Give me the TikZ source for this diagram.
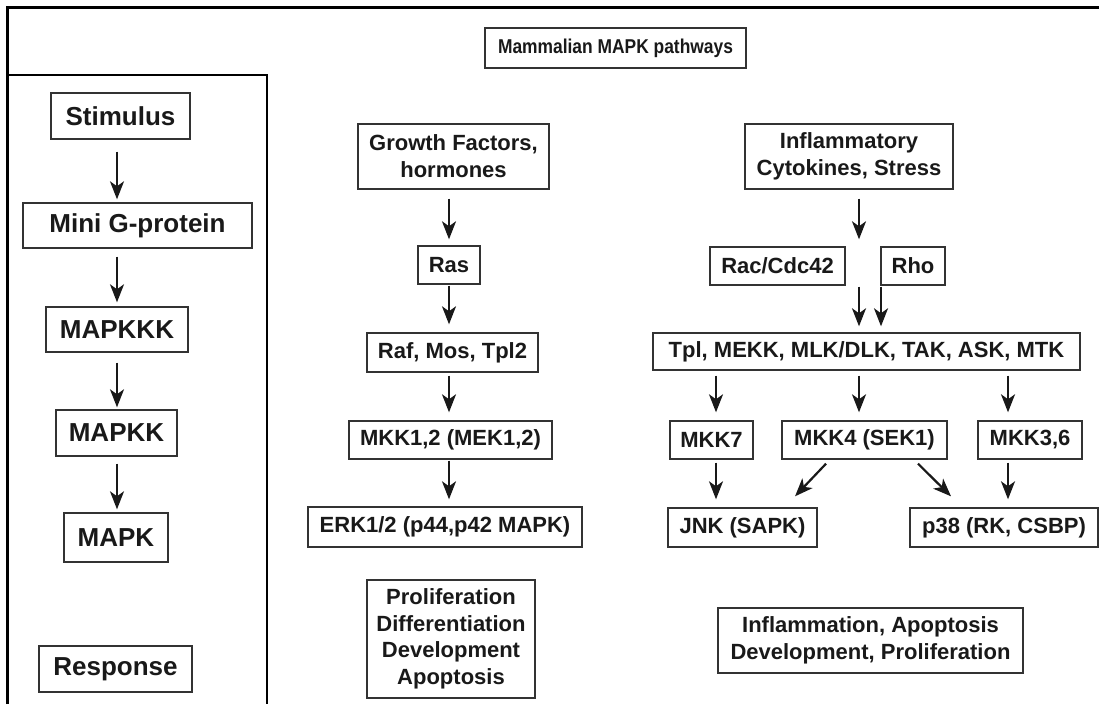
\documentclass[tikz,border=0pt]{standalone}
\usepackage{fontspec}
\setmainfont{Liberation Sans}
\newfontfamily\titlefont[FakeStretch=0.87]{Liberation Sans}
\usetikzlibrary{arrows.meta}
\begin{document}
\begin{tikzpicture}[x=1pt,y=-1pt,
  box/.style={draw=black!80, line width=1.4pt, inner sep=0pt, align=center,
    text=black!90, font=\fontsize{22}{27}\selectfont\bfseries},
  lbox/.style={box, font=\fontsize{26}{30}\selectfont\bfseries},
  tbox/.style={box, font=\titlefont\fontsize{20}{24}\selectfont\bfseries},
  arr/.style={-{Stealth[length=18pt,width=14pt,inset=5pt]}, line width=2.2pt, black!90}]
\useasboundingbox (0,0) rectangle (1099,704);
\fill[white] (0,0) rectangle (1099,704);
% frames
\draw[line width=3pt] (7,704) -- (7,7) -- (1099,7);
\draw[line width=2pt] (7,75) -- (267,75) -- (267,704);
% title
\node[tbox, minimum width=261pt, minimum height=40pt] (title) at (615.5,48) {Mammalian MAPK pathways};
% left panel
\node[lbox, minimum width=139pt, minimum height=46pt] (stim) at (120.5,116) {Stimulus};
\node[lbox, minimum width=229pt, minimum height=45pt] (mini) at (137.5,225.5) {Mini G-protein};
\node[lbox, minimum width=142pt, minimum height=45pt] (mkkk) at (117,329.5) {MAPKKK};
\node[lbox, minimum width=121pt, minimum height=46pt] (mkk) at (116.5,433) {MAPKK};
\node[lbox, minimum width=104pt, minimum height=49pt] (mapk) at (116,537.5) {MAPK};
\node[lbox, minimum width=153pt, minimum height=46pt] (resp) at (115.5,669) {Response};
\coordinate (ax) at (117,0);
\draw[arr, shorten <=12pt, shorten >=3pt] (stim.south -| ax) -- (mini.north -| ax);
\draw[arr, shorten <=8pt, shorten >=4pt] (mini.south -| ax) -- (mkkk.north -| ax);
\draw[arr, shorten <=10pt, shorten >=2pt] (mkkk.south -| ax) -- (mkk.north -| ax);
\draw[arr, shorten <=7pt, shorten >=3pt] (mkk.south -| ax) -- (mapk.north -| ax);
% middle column
\node[box, minimum width=191pt, minimum height=65pt] (gf) at (453.5,156.5) {Growth Factors,\\hormones};
\node[box, minimum width=62pt, minimum height=38pt] (ras) at (449,265) {Ras};
\node[box, minimum width=171pt, minimum height=39pt] (raf) at (452.5,352.5) {Raf, Mos, Tpl2};
\node[box, minimum width=203pt, minimum height=38pt] (mek) at (450.5,440) {MKK1,2 (MEK1,2)};
\node[box, minimum width=274pt, minimum height=40pt] (erk) at (445,527) {ERK1/2 (p44,p42 MAPK)};
\node[box, minimum width=168pt, minimum height=118pt, font=\fontsize{22}{26.5}\selectfont\bfseries] (prolif) at (451,639) {Proliferation\\Differentiation\\Development\\Apoptosis};
\coordinate (bx) at (449,0);
\draw[arr, shorten <=9pt, shorten >=6pt] (gf.south -| bx) -- (ras.north -| bx);
\draw[arr, shorten <=1pt, shorten >=8pt] (ras.south -| bx) -- (raf.north -| bx);
\draw[arr, shorten <=3pt, shorten >=8pt] (raf.south -| bx) -- (mek.north -| bx);
\draw[arr, shorten <=1pt, shorten >=7pt] (mek.south -| bx) -- (erk.north -| bx);
% right column
\node[box, minimum width=208pt, minimum height=65pt] (infl) at (849,156.5) {Inflammatory\\Cytokines, Stress};
\node[box, minimum width=135pt, minimum height=38pt] (rac) at (777.5,266) {Rac/Cdc42};
\node[box, minimum width=64pt, minimum height=38pt] (rho) at (913,266) {Rho};
\node[box, minimum width=427pt, minimum height=37pt] (tpl) at (866.5,351.5) {Tpl, MEKK, MLK/DLK, TAK, ASK, MTK};
\node[box, minimum width=83pt, minimum height=38pt] (mkk7) at (711.5,440) {MKK7};
\node[box, minimum width=165pt, minimum height=38pt] (mkk4) at (864.5,440) {MKK4 (SEK1)};
\node[box, minimum width=104pt, minimum height=38pt] (mkk36) at (1030,440) {MKK3,6};
\node[box, minimum width=149pt, minimum height=39pt] (jnk) at (742.5,527.5) {JNK (SAPK)};
\node[box, minimum width=188pt, minimum height=39pt] (p38) at (1004,527.5) {p38 (RK, CSBP)};
\node[box, minimum width=305pt, minimum height=65pt] (infl2) at (870.5,640.5) {Inflammation, Apoptosis\\Development, Proliferation};
\coordinate (c1) at (859,0);
\coordinate (c2) at (881,0);
\coordinate (c3) at (716,0);
\coordinate (c4) at (1008,0);
\draw[arr, shorten <=9pt, shorten >=7pt] (infl.south -| c1) -- (rac.north -| c1);
\draw[arr, shorten <=1pt, shorten >=6pt] (rac.south -| c1) -- (tpl.north -| c1);
\draw[arr, shorten <=1pt, shorten >=6pt] (rho.south -| c2) -- (tpl.north -| c2);
\draw[arr, shorten <=5pt, shorten >=8pt] (tpl.south -| c3) -- (mkk7.north -| c3);
\draw[arr, shorten <=5pt, shorten >=8pt] (tpl.south -| c1) -- (mkk4.north -| c1);
\draw[arr, shorten <=5pt, shorten >=8pt] (tpl.south -| c4) -- (mkk36.north -| c4);
\draw[arr, shorten <=3pt, shorten >=8pt] (mkk7.south -| c3) -- (jnk.north -| c3);
\draw[arr, shorten <=3pt, shorten >=8pt] (mkk36.south -| c4) -- (p38.north -| c4);
\draw[arr] ([xshift=-38.5pt,yshift=-4pt]mkk4.south) -- ([xshift=52.5pt,yshift=11pt]jnk.north);
\draw[arr] ([xshift=53.5pt,yshift=-4pt]mkk4.south) -- ([xshift=-53pt,yshift=11pt]p38.north);
\end{tikzpicture}
\end{document}
